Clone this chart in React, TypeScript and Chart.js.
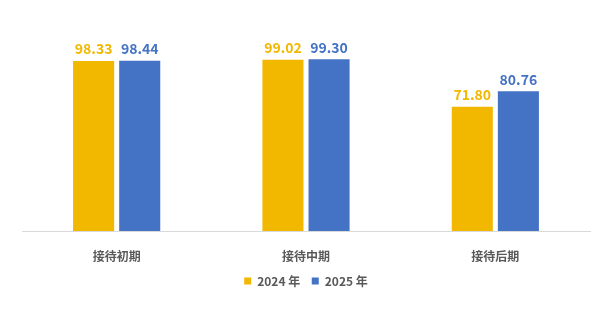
import React, { useEffect, useRef } from "react";
import { Chart, registerables } from "chart.js";

Chart.register(...registerables);

const categories = ["接待初期", "接待中期", "接待后期"];
const seriesNames = ["2024 年", "2025 年"];
const values2024 = [98.33, 99.02, 71.8];
const values2025 = [98.44, 99.3, 80.76];
const colors = ["#F2B800", "#4472C4"];

const FONT = '"Noto Sans CJK SC", "Noto Sans", sans-serif';

const valueLabels = {
  id: "valueLabels",
  afterDatasetsDraw(chart: any) {
    const ctx = chart.ctx;
    ctx.save();
    chart.data.datasets.forEach((ds: any, i: number) => {
      const meta = chart.getDatasetMeta(i);
      meta.data.forEach((el: any, j: number) => {
        const v = ds.data[j];
        ctx.font = `bold 14px ${FONT}`;
        ctx.fillStyle = ds.backgroundColor;
        ctx.textAlign = "center";
        ctx.textBaseline = "bottom";
        ctx.fillText(v.toFixed(2), el.x, el.y - 5);
      });
    });
    ctx.restore();
  },
};

export default function App() {
  const ref = useRef<HTMLCanvasElement>(null);
  useEffect(() => {
    document.body.style.margin = "0";
    const chart = new Chart(ref.current!, {
      type: "bar",
      data: {
        labels: categories,
        datasets: [
          { label: seriesNames[0], data: values2024, backgroundColor: colors[0] },
          { label: seriesNames[1], data: values2025, backgroundColor: colors[1] },
        ],
      },
      options: {
        animation: false,
        responsive: false,
        devicePixelRatio: 1,
        layout: { padding: { top: 58, left: 22, right: 16, bottom: 25 } },
        datasets: { bar: { categoryPercentage: 0.487, barPercentage: 0.891 } },
        scales: {
          x: {
            grid: { display: false, drawTicks: true, tickLength: 18 },
            border: { display: true, color: "#D9D9D9", width: 1 },
            ticks: { color: "#595959", font: { family: FONT, size: 12, weight: "bold" }, padding: 0 },
          },
          y: { display: false, min: 0, max: 100 },
        },
        plugins: {
          legend: {
            position: "bottom",
            labels: {
              boxWidth: 7,
              boxHeight: 7,
              padding: 11.5,
              color: "#595959",
              font: { family: FONT, size: 12, weight: "bold" },
            },
          },
          tooltip: { enabled: false },
        },
      },
      plugins: [valueLabels],
    });
    return () => chart.destroy();
  }, []);
  return <canvas ref={ref} width={606} height={322} style={{ display: "block" }} />;
}
